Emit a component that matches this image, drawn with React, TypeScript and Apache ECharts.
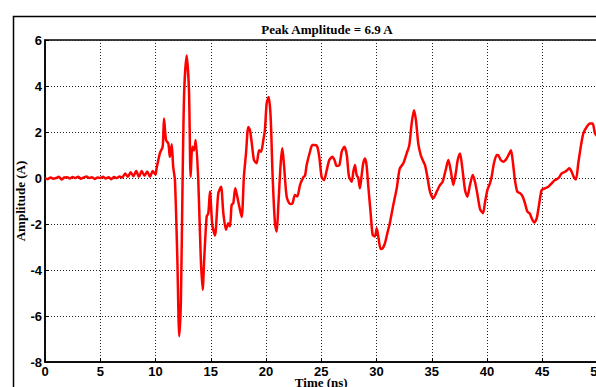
import React, { useEffect, useRef } from "react";
import * as echarts from "echarts";

const titleText = "Peak Amplitude = 6.9 A";
const xName = "Time (ns)";
const yName = "Amplitude (A)";

const times: number[] = [
  0, 0.25, 0.5, 0.75, 1, 1.25, 1.5, 1.75, 2, 2.25, 2.5, 2.75, 3, 3.25, 3.5, 3.75, 4, 4.25, 4.5, 4.75,
  5, 5.25, 5.5, 5.75, 6, 6.25, 6.5, 6.75, 7, 7.25, 7.5, 7.75, 8, 8.25, 8.5, 8.75, 9, 9.25, 9.5, 9.75, 10,
  10.1, 10.4, 10.65, 10.77, 10.95, 11.16, 11.3, 11.47, 11.6, 11.76, 11.97, 12.15, 12.3, 12.46, 12.6, 12.82,
  13.03, 13.18, 13.33, 13.48, 13.64, 13.87, 14.09, 14.27, 14.42, 14.63, 14.78, 14.93, 15.14, 15.38, 15.68,
  15.93, 16.14, 16.38, 16.59, 16.74, 16.89, 17.04, 17.22, 17.4, 17.58, 17.8, 18.0, 18.19, 18.4, 18.55, 18.7,
  18.91, 19.15, 19.37, 19.55, 19.76, 19.9, 20.06, 20.24, 20.42, 20.6, 20.81, 20.97, 21.11, 21.33, 21.48,
  21.63, 21.87, 22.17, 22.4, 22.62, 22.83, 23.08, 23.38, 23.53, 23.68, 23.98, 24.19, 24.43, 24.64, 24.82,
  25.04, 25.25, 25.5, 25.73, 26.0, 26.2, 26.4, 26.64, 26.85, 27.09, 27.31, 27.51, 27.76, 27.9, 28.05, 28.2,
  28.35, 28.5, 28.66, 28.8, 28.96, 29.1, 29.26, 29.47, 29.65, 29.86, 30.02, 30.16, 30.38, 30.56, 30.77,
  30.98, 31.22, 31.52, 31.83, 32.1, 32.43, 32.73, 32.97, 33.18, 33.39, 33.57, 33.78, 34.0, 34.18, 34.39,
  34.6, 34.84, 35.14, 35.45, 35.75, 35.99, 36.26, 36.5, 36.71, 36.95, 37.17, 37.35, 37.56, 37.77, 38.01,
  38.22, 38.46, 38.71, 38.91, 39.12, 39.37, 39.64, 39.82, 40.05, 40.27, 40.42, 40.63, 40.88, 41.0, 41.24,
  41.48, 41.78, 42.02, 42.17, 42.32, 42.53, 42.74, 42.99, 43.23, 43.44, 43.65, 43.89, 44.04, 44.28, 44.5,
  44.73, 44.95, 45.25, 45.55, 45.85, 46.15, 46.46, 46.76, 47.06, 47.27, 47.45, 47.66, 47.87, 48.05, 48.26,
  48.51, 48.72, 49.02, 49.32, 49.56, 49.77, 50,
];

const amps: number[] = [
  0.0, -0.05, 0.02, -0.03, 0.0, 0.05, -0.06, 0.02, 0.03, -0.02, 0.04, 0.0, 0.05, -0.03, 0.02, 0.06, 0.0, 0.03, -0.04, 0.02,
  0.0, 0.05, -0.02, 0.03, -0.05, 0.04, 0.0, 0.06, 0.02, 0.2, 0.05, 0.25, 0.08, 0.3, 0.05, 0.3, 0.1, 0.28, 0.05, 0.3, 0.15,
  0.42, 1.08, 1.36, 2.59, 1.65, 1.5, 0.92, 1.47, 0.49, -0.09, -3.4, -6.88, -5.3, 0.2, 3.8, 5.33,
  3.8, 0.05, 1.36, 1.2, 1.65, -0.09, -3.4, -4.86, -3.4, -1.68, -1.53, -0.59, -2.04, -2.5, -0.67,
  -0.38, -1.53, -2.25, -1.97, -2.1, -1.17, -1.1, -0.45, -0.81, -1.24, -1.7, 0.06, 1.07, 2.22, 2.08, 1.57,
  0.78, 0.64, 1.21, 1.14, 1.65, 2.08, 3.24, 3.52, 2.66, 0.06, -1.97, -2.33, -1.24, 0.64, 1.29,
  0.56, -0.81, -1.13, -1.1, -0.74, -0.8, -0.3, 0.03, 0.1, 0.56, 1.14, 1.43, 1.43, 1.36, 0.92,
  0.03, -0.09, 0.35, 0.78, 0.92, 0.78, 0.52, 0.56, 1.14, 1.36, 1.0, 0.06, -0.16, 0.27, 0.56, 0.13,
  0.0, -0.45, 0.13, 0.64, 0.85, 0.56, -0.38, -1.53, -2.47, -2.54, -2.18, -2.54, -3.09, -3.05, -2.83,
  -2.4, -1.93, -1.17, -0.45, 0.4, 0.64, 1.07, 1.43, 2.37, 2.95, 2.51, 1.5, 1.0, 0.78, 0.56,
  0.06, -0.59, -0.88, -0.59, -0.3, -0.16, 0.35, 0.78, 0.35, -0.3, 0.2, 0.78, 1.07, 0.42, -0.52,
  -0.81, -0.3, 0.13, -0.16, -0.67, -1.35, -1.53, -1.05, -0.5, -0.23, 0.06, 0.64, 1.0, 1.0, 0.78,
  0.71, 0.85, 1.07, 1.21, 0.78, -0.09, -0.59, -0.66, -0.81, -1.1, -1.46, -1.56, -1.75, -1.94, -1.75,
  -1.1, -0.52, -0.45, -0.38, -0.23, -0.09, -0.01, 0.2, 0.27, 0.35, 0.42, 0.27, 0.03, -0.06, 0.64,
  1.43, 1.94, 2.22, 2.37, 2.37, 1.94, 1.8,
];

export default function App() {
  const ref = useRef<HTMLDivElement>(null);
  useEffect(() => {
    if (!ref.current) return;
    const chart = echarts.init(ref.current, null, { renderer: "svg" });
    const data = times.map((t, i) => [t, amps[i]]);
    const serif = "'Liberation Serif', 'Times New Roman', serif";
    const sans = "'Liberation Sans', Arial, sans-serif";
    chart.setOption({
      animation: false,
      backgroundColor: "#ffffff",
      title: {
        text: titleText,
        left: 322,
        top: 18,
        textAlign: "center",
        textStyle: { fontFamily: serif, fontSize: 13, fontWeight: "bold", color: "#000" },
      },
      graphic: [
        {
          type: "rect",
          left: 11,
          top: 14,
          shape: { x: 0, y: 0, width: 620, height: 400 },
          style: { fill: "none", stroke: "#000", lineWidth: 1.5 },
          silent: true,
          z: -1,
        },
      ],
      grid: {
        left: 45,
        top: 40,
        right: -1.5,
        bottom: 25,
        outerBoundsMode: "none",
        containLabel: false,
        show: true,
        borderColor: "#000",
        borderWidth: 1.5,
        backgroundColor: "#fff",
      },
      xAxis: {
        type: "value",
        min: 0,
        max: 50,
        interval: 5,
        name: xName,
        nameLocation: "middle",
        nameGap: 14,
        nameMoveOverlap: false,
        nameTextStyle: { fontFamily: serif, fontSize: 13, fontWeight: "bold", color: "#000" },
        axisLine: { show: true, onZero: false, lineStyle: { color: "#000", width: 1.5 } },
        axisTick: { show: true, inside: true, length: 4, lineStyle: { color: "#000" } },
        axisLabel: { fontFamily: sans, fontSize: 13, fontWeight: "bold", color: "#000", margin: 3 },
        splitLine: { show: true, lineStyle: { color: "#222", type: [1, 2], width: 1 } },
      },
      yAxis: {
        type: "value",
        min: -8,
        max: 6,
        interval: 2,
        name: yName,
        nameLocation: "middle",
        nameGap: 18,
        nameMoveOverlap: false,
        nameTextStyle: { fontFamily: serif, fontSize: 13, fontWeight: "bold", color: "#000" },
        axisLine: { show: true, onZero: false, lineStyle: { color: "#000", width: 1.5 } },
        axisTick: { show: true, inside: true, length: 4, lineStyle: { color: "#000" } },
        axisLabel: { fontFamily: sans, fontSize: 13, fontWeight: "bold", color: "#000", margin: 3 },
        splitLine: { show: true, lineStyle: { color: "#222", type: [1, 2], width: 1 } },
      },
      series: [
        {
          type: "line",
          data,
          showSymbol: false,
          symbol: "none",
          smooth: 0.25,
          lineStyle: { color: "#ff0000", width: 2.5 },
        },
      ],
    });
    return () => chart.dispose();
  }, []);
  return (
    <div
      ref={ref}
      style={{ position: "fixed", left: 0, top: 0, width: 596, height: 387, background: "#fff" }}
    />
  );
}
